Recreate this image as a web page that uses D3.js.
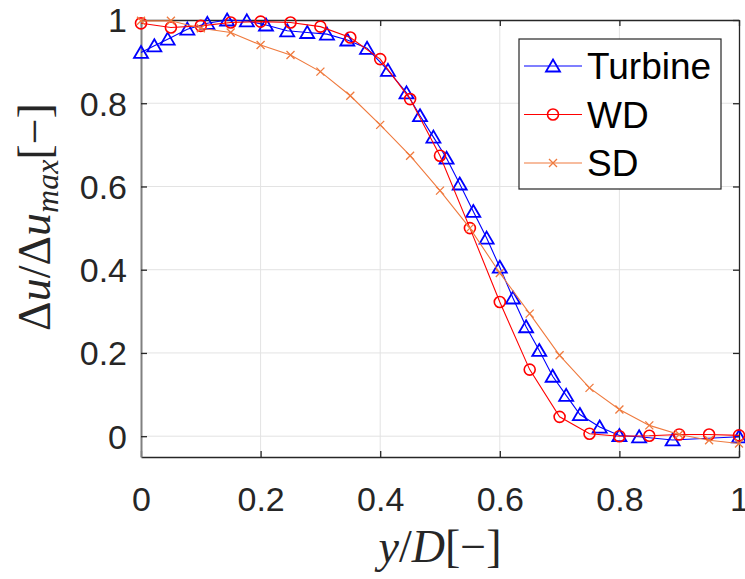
<!DOCTYPE html>
<html lang="en">
<head>
  <meta charset="UTF-8">
  <title>Wake profile: Turbine vs WD vs SD</title>
  <script src="https://d3js.org/d3.v7.min.js"></script>
  <style>
    body { margin: 0; background: #fff; }
    svg { display: block; }
    .tick-label { font-family: "Liberation Sans", Arial, sans-serif; font-size: 34px; fill: #262626; }
    .latex { font-family: "Liberation Serif", "DejaVu Serif", serif; font-size: 46px; fill: #262626; }
    .legend-text { font-family: "Liberation Sans", Arial, sans-serif; font-size: 37px; fill: #000; }
  </style>
</head>
<body>
  <div id="chart"></div>

  <script>
    // data
    const xTicks = [0, 0.2, 0.4, 0.6, 0.8, 1];
    const yTicks = [0, 0.2, 0.4, 0.6, 0.8, 1];
    const xTickLabels = ["0", "0.2", "0.4", "0.6", "0.8", "1"];
    const yTickLabels = ["0", "0.2", "0.4", "0.6", "0.8", "1"];

    const turbineX = [0, 0.0223, 0.0446, 0.0775, 0.111, 0.144, 0.177, 0.209, 0.2445, 0.278,
                      0.311, 0.345, 0.378, 0.413, 0.444, 0.4666, 0.489, 0.511, 0.533, 0.5557,
                      0.578, 0.600, 0.622, 0.644, 0.666, 0.6884, 0.711, 0.734, 0.767, 0.8,
                      0.833, 0.889, 1.0];
    const turbineY = [0.922, 0.938, 0.954, 0.978, 0.992, 1.0, 0.998, 0.988, 0.974, 0.970,
                      0.966, 0.952, 0.932, 0.879, 0.825, 0.770, 0.7185, 0.668, 0.606, 0.540,
                      0.476, 0.406, 0.332, 0.263, 0.206, 0.144, 0.098, 0.052, 0.022, 0.0015,
                      -0.0015, -0.009, -0.0015];

    const wdX = [0, 0.05, 0.1, 0.15, 0.2, 0.25, 0.3, 0.35, 0.4, 0.45, 0.5,
                 0.55, 0.6, 0.65, 0.7, 0.75, 0.8, 0.85, 0.9, 0.95, 1.0];
    const wdY = [0.992, 0.982, 0.986, 0.994, 0.996, 0.994, 0.984, 0.958, 0.906, 0.81, 0.674,
                 0.50, 0.3225, 0.16, 0.0465, 0.006, 0.0, 0.001, 0.004, 0.004, 0.002];

    const sdX = wdX;
    const sdY = [0.998, 0.998, 0.98, 0.97, 0.94, 0.916, 0.876, 0.818, 0.748, 0.674, 0.59,
                 0.50, 0.392, 0.2945, 0.1944, 0.116, 0.064, 0.026, 0.004, -0.0096, -0.0176];

    const series = [
      { name: "Turbine", xs: turbineX, ys: turbineY, color: "#0000ff", marker: "triangle" },
      { name: "WD", xs: wdX, ys: wdY, color: "#ff0000", marker: "circle" },
      { name: "SD", xs: sdX, ys: sdY, color: "#ef7a3e", marker: "cross" }
    ];

    const W = 745, H = 579;
    const margin = { top: 20, right: 6, bottom: 122, left: 141 };
    const width = W - margin.left - margin.right,
          height = H - margin.top - margin.bottom;

    const svg = d3.select("#chart").append("svg")
        .attr("width", W)
        .attr("height", H);
    const g = svg.append("g")
        .attr("transform", `translate(${margin.left},${margin.top})`);

    const x = d3.scaleLinear().domain([0, 1]).range([0, width]);
    const y = d3.scaleLinear().domain([-0.05, 1]).range([height, 0]);

    // grid
    g.append("g").selectAll("line").data(xTicks.slice(1, -1)).join("line")
        .attr("x1", d => x(d)).attr("x2", d => x(d))
        .attr("y1", 0).attr("y2", height)
        .attr("stroke", "#e3e3e3").attr("stroke-width", 1);
    g.append("g").selectAll("line").data(yTicks.slice(0, -1)).join("line")
        .attr("x1", 0).attr("x2", width)
        .attr("y1", d => y(d)).attr("y2", d => y(d))
        .attr("stroke", "#e3e3e3").attr("stroke-width", 1);

    // axes (ticks inward on all sides, box)
    const axisColor = "#262626";
    const xb = g.append("g").attr("transform", `translate(0,${height})`)
        .call(d3.axisBottom(x).tickValues(xTicks).tickSizeInner(-6).tickSizeOuter(0)
          .tickFormat((d, i) => xTickLabels[i]));
    const xt = g.append("g")
        .call(d3.axisTop(x).tickValues(xTicks).tickSizeInner(-6).tickSizeOuter(0).tickFormat(""));
    const yl = g.append("g")
        .call(d3.axisLeft(y).tickValues(yTicks).tickSizeInner(-6).tickSizeOuter(0)
          .tickFormat((d, i) => yTickLabels[i]));
    const yr = g.append("g").attr("transform", `translate(${width},0)`)
        .call(d3.axisRight(y).tickValues(yTicks).tickSizeInner(-6).tickSizeOuter(0).tickFormat(""));

    [xb, xt, yl, yr].forEach(a => {
      a.select(".domain").attr("stroke", axisColor).attr("stroke-width", 1.3);
      a.selectAll(".tick line").attr("stroke", axisColor).attr("stroke-width", 1.3);
    });
    yl.select(".domain").attr("stroke", "#808080").attr("stroke-width", 2);

    xb.selectAll(".tick text")
        .attr("class", "tick-label")
        .attr("y", 30).attr("dy", "0.71em");
    yl.selectAll(".tick text")
        .attr("class", "tick-label")
        .attr("x", -14).attr("dy", "0.35em");

    // series
    const line = d3.line().x(d => x(d[0])).y(d => y(d[1]));
    const markerPath = {
      triangle: "M0,-6.5L7,5.5L-7,5.5Z",
      cross: "M-4,-4L4,4M-4,4L4,-4"
    };

    function drawMarker(sel, s) {
      if (s.marker === "circle") {
        sel.append("circle").attr("r", 5.5)
           .attr("fill", "none").attr("stroke", s.color).attr("stroke-width", 1.6);
      } else {
        sel.append("path").attr("d", markerPath[s.marker])
           .attr("fill", "none").attr("stroke", s.color)
           .attr("stroke-width", s.marker === "triangle" ? 1.8 : 1.3);
      }
    }

    series.forEach(s => {
      const pts = s.xs.map((v, i) => [v, s.ys[i]]);
      g.append("path").datum(pts)
          .attr("fill", "none")
          .attr("stroke", s.color)
          .attr("stroke-width", 1.1)
          .attr("d", line);
      g.append("g").selectAll("g").data(pts).join("g")
          .attr("transform", d => `translate(${x(d[0])},${y(d[1])})`)
          .each(function() { drawMarker(d3.select(this), s); });
    });

    // axis labels
    const xLabel = svg.append("text").attr("class", "latex")
        .attr("x", margin.left + width / 2).attr("y", 562)
        .attr("text-anchor", "middle");
    xLabel.append("tspan").attr("font-style", "italic").text("y");
    xLabel.append("tspan").text("/");
    xLabel.append("tspan").attr("font-style", "italic").text("D");
    xLabel.append("tspan").text("[\u2212]");

    const yLabel = svg.append("text").attr("class", "latex")
        .attr("transform", "translate(50,217) rotate(-90)")
        .attr("text-anchor", "middle");
    yLabel.append("tspan").text("\u0394");
    yLabel.append("tspan").attr("font-style", "italic").text("u");
    yLabel.append("tspan").text("/\u0394");
    yLabel.append("tspan").attr("font-style", "italic").text("u");
    yLabel.append("tspan").attr("font-style", "italic").attr("font-size", "32px").attr("dy", 8).text("max");
    yLabel.append("tspan").attr("dy", -8).text("[\u2212]");

    // legend
    const legend = svg.append("g").attr("transform", "translate(519,39)");
    legend.append("rect")
        .attr("width", 202).attr("height", 150)
        .attr("fill", "#fff").attr("stroke", axisColor).attr("stroke-width", 1.2);
    series.forEach((s, i) => {
      const ly = 27 + i * 48.5;
      legend.append("line")
          .attr("x1", 5).attr("x2", 63).attr("y1", ly).attr("y2", ly)
          .attr("stroke", s.color).attr("stroke-width", 1.1);
      const m = legend.append("g").attr("transform", `translate(34,${ly})`);
      drawMarker(m, s);
      legend.append("text").attr("class", "legend-text")
          .attr("x", 68).attr("y", ly).attr("dy", "0.36em")
          .text(s.name);
    });
  </script>
</body>
</html>
